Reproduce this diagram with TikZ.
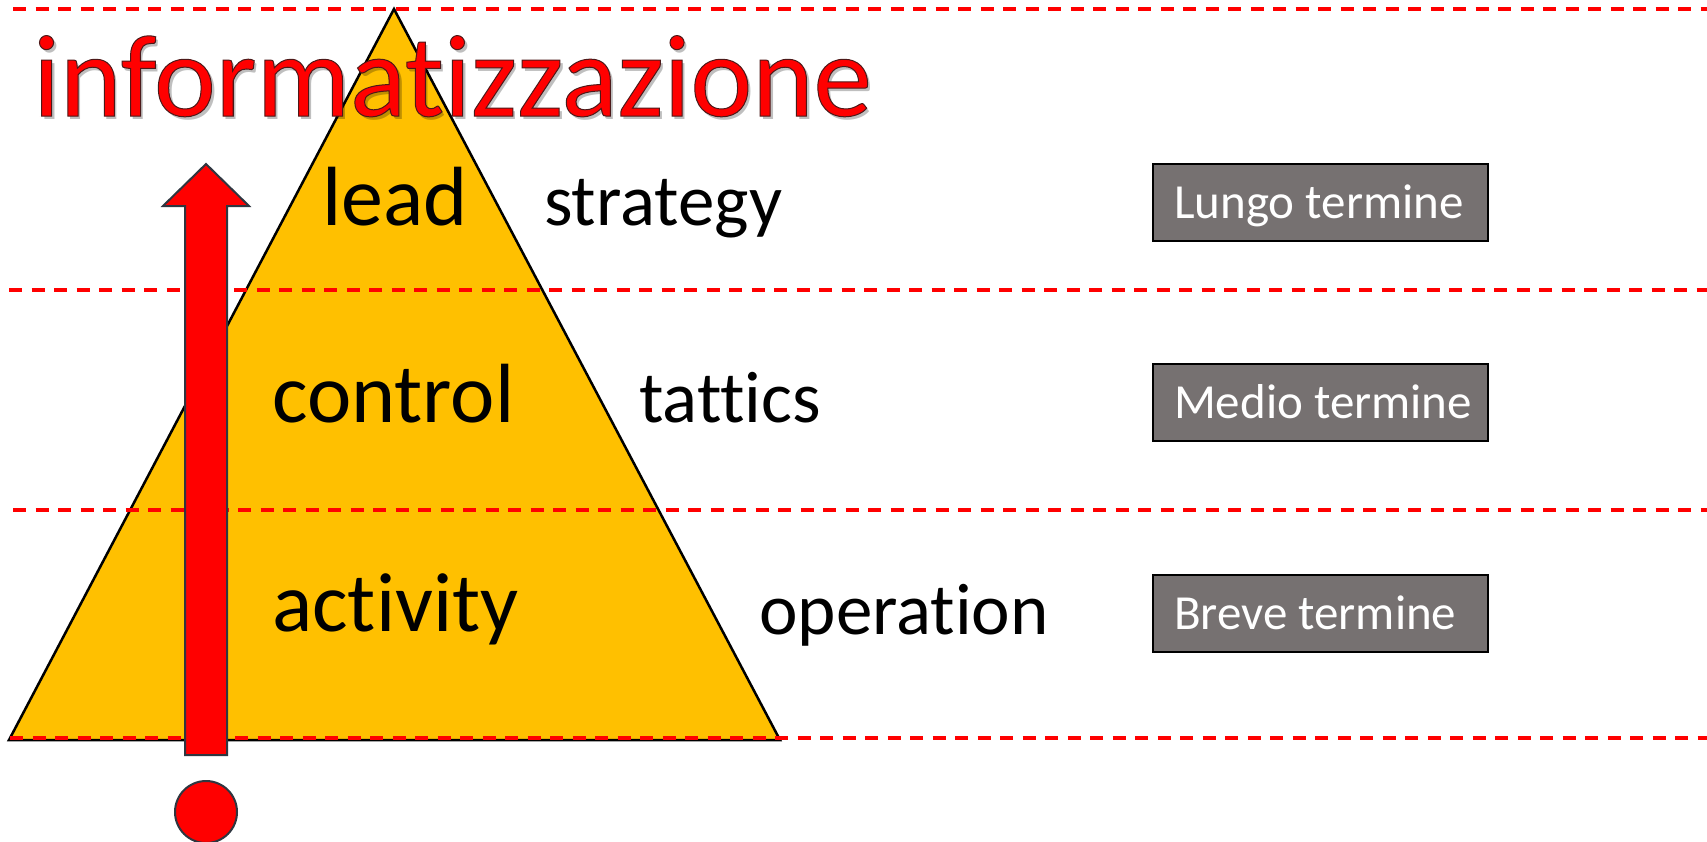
\documentclass[tikz,border=0pt]{standalone}
\usepackage{fontspec}
\setmainfont{Carlito}[Ligatures=NoCommon]
\definecolor{pyr}{HTML}{FFC000}
\definecolor{boxgray}{HTML}{767171}
\definecolor{arrowedge}{HTML}{2F3640}
\newcommand\outlinedtext[1]{\special{pdf:literal direct 2 Tr 1.0 w 0.3 0.1 0.1 RG}#1\special{pdf:literal direct 0 Tr}}
\begin{document}
\begin{tikzpicture}[x=1pt,y=-1pt,
  divider/.style={draw=red, line width=3.3pt, dash pattern=on 13pt off 9.5pt},
  biglabel/.style={anchor=base west, inner sep=0pt, font=\fontsize{84}{84}\selectfont},
  sidelabel/.style={anchor=base west, inner sep=0pt, font=\fontsize{73}{73}\selectfont},
  titletext/.style={anchor=base west, inner sep=0pt, font=\fontsize{117}{117}\selectfont},
  termbox/.style={draw=black, line width=2pt, fill=boxgray, text=white,
    minimum width=335pt, minimum height=77pt, inner xsep=21pt, inner ysep=0pt,
    text height=32pt, text depth=0pt,
    font=\fontsize{49}{49}\selectfont},
  upshape/.style={fill=red, draw=arrowedge, line width=2pt, line join=miter}
]
\useasboundingbox (0,0) rectangle (1707,841);
\fill[white] (0,0) rectangle (1707,841);

% pyramid
\coordinate (apex) at (394,9);
\coordinate (bl) at (9,740);
\coordinate (br) at (780,740);
\filldraw[fill=pyr, draw=black, line width=2.5pt, line join=miter] (apex) -- (bl) -- (br) -- cycle;

% dashed level lines
\draw[divider] (13,9) -- (1707,9);
\draw[divider] (9,290) -- (1707,290);
\draw[divider] (13,510) -- (1707,510);
\draw[divider] (10,738) -- (1707,738);

% up arrow
\filldraw[upshape] (185,755) -- (185,206) -- (163,206) -- (206,164) -- (249,206) -- (227,206) -- (227,755) -- cycle;
\filldraw[upshape] (206,812) circle (31);

% title: soft shadow, then red text with a thin dark edge
\node[titletext, text=black, opacity=0.25] (titleshadow) at (36,119) {informatizzazione};
\node[titletext, text=red] (title) at (33,116) {\outlinedtext{informatizzazione}};

% levels
\node[biglabel] (lead) at (322,225) {lead};
\node[biglabel] (control) at (272,422) {control};
\node[biglabel] (activity) at (272,631) {activity};

\node[sidelabel] (strategy) at (544,225) {strategy};
\node[sidelabel] (tattics) at (639,422) {tattics};
\node[sidelabel] (operation) at (759,634) {operation};

% term boxes
\node[termbox] (lungo) at (1320.5,202.5) {\makebox[293pt][l]{Lungo termine}};
\node[termbox] (medio) at (1320.5,402) {\makebox[293pt][l]{Medio termine}};
\node[termbox] (breve) at (1320.5,613.5) {\makebox[293pt][l]{Breve termine}};
\end{tikzpicture}
\end{document}
